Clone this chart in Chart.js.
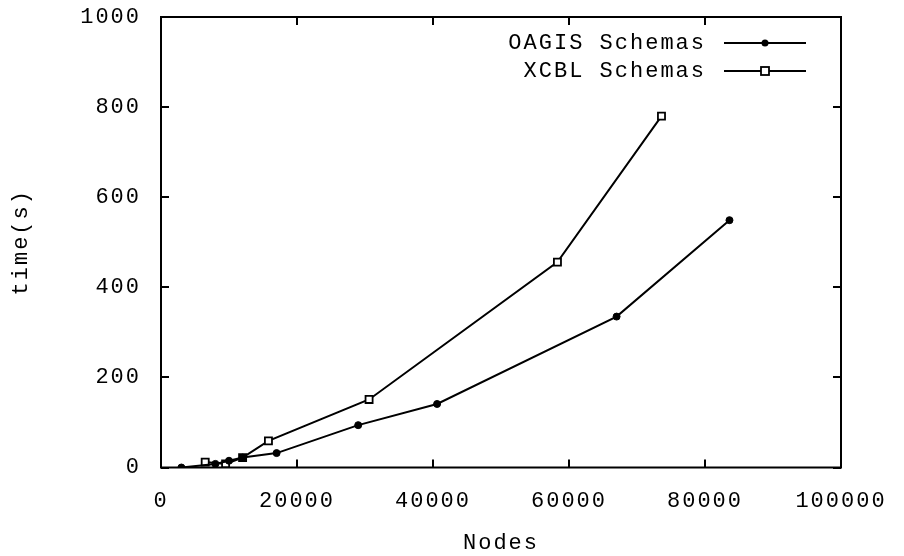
<!DOCTYPE html>
<html>
<head>
<meta charset="utf-8">
<script src="https://cdn.jsdelivr.net/npm/chart.js@4.4.0/dist/chart.umd.min.js"></script>
<style>
html,body{margin:0;padding:0;background:#fff;}
#wrap{width:904px;height:556px;position:relative;}
</style>
</head>
<body>
<div id="wrap"><canvas id="c" width="904" height="556"></canvas></div>
<script>
const oagisNodes = [3000, 8000, 10000, 12000, 17000, 29000, 40600, 67000, 83600];
const oagisTime  = [0, 8, 15, 22, 32, 94, 141, 335, 549];
const xcblNodes  = [6500, 9500, 12000, 15800, 30600, 58300, 73600];
const xcblTime   = [12, 8, 22, 59, 151, 456, 780];
const xTicks = [0, 20000, 40000, 60000, 80000, 100000];
const yTicks = [0, 200, 400, 600, 800, 1000];
const seriesNames = ['OAGIS Schemas', 'XCBL Schemas'];

const FONT = '"Liberation Mono", "DejaVu Sans Mono", monospace';
const FS = 22;

const toPts = (xs, ys) => xs.map((x, i) => ({x: x, y: ys[i]}));

const framePlugin = {
  id: 'frame',
  beforeDraw(chart) {
    chart.ctx.letterSpacing = '2px';
  },
  afterDatasetsDraw(chart) {
    const {ctx, chartArea: a, scales} = chart;
    ctx.save();
    ctx.strokeStyle = '#000';
    ctx.lineWidth = 2;
    ctx.strokeRect(a.left, a.top, a.right - a.left, a.bottom - a.top);
    const L = 8;
    ctx.beginPath();
    xTicks.forEach(v => {
      const px = Math.round(scales.x.getPixelForValue(v));
      ctx.moveTo(px, a.bottom); ctx.lineTo(px, a.bottom - L);
      ctx.moveTo(px, a.top); ctx.lineTo(px, a.top + L);
    });
    yTicks.forEach(v => {
      const py = Math.round(scales.y.getPixelForValue(v));
      ctx.moveTo(a.left, py); ctx.lineTo(a.left + L, py);
      ctx.moveTo(a.right, py); ctx.lineTo(a.right - L, py);
    });
    ctx.stroke();
    // legend
    ctx.font = FS + 'px ' + FONT;
    ctx.fillStyle = '#000';
    ctx.textAlign = 'right';
    ctx.textBaseline = 'middle';
    const rows = [43, 71];
    seriesNames.forEach((n, i) => {
      const y = rows[i];
      ctx.fillText(n, 706, y);
      ctx.beginPath();
      ctx.lineWidth = 2;
      ctx.moveTo(724, y); ctx.lineTo(806, y);
      ctx.stroke();
      if (i === 0) {
        ctx.beginPath();
        ctx.arc(765, y, 3.5, 0, Math.PI * 2);
        ctx.fill();
      } else {
        ctx.fillStyle = '#fff';
        ctx.fillRect(761, y - 4, 8, 8);
        ctx.lineWidth = 1.8;
        ctx.strokeRect(761, y - 4, 8, 8);
        ctx.fillStyle = '#000';
      }
    });
    ctx.restore();
  }
};

new Chart(document.getElementById('c'), {
  type: 'scatter',
  data: {
    datasets: [
      {
        label: seriesNames[0],
        data: toPts(oagisNodes, oagisTime),
        showLine: true,
        borderColor: '#000',
        backgroundColor: '#000',
        borderWidth: 2,
        pointStyle: 'circle',
        pointRadius: 3.5,
        pointBorderWidth: 1,
        tension: 0
      },
      {
        label: seriesNames[1],
        data: toPts(xcblNodes, xcblTime),
        showLine: true,
        borderColor: '#000',
        backgroundColor: '#fff',
        borderWidth: 2,
        pointStyle: 'rect',
        pointRadius: 5,
        pointBorderWidth: 1.8,
        tension: 0
      }
    ]
  },
  options: {
    responsive: false,
    animation: false,
    layout: {padding: {left: 0, right: 63, top: 17, bottom: 0}},
    plugins: {legend: {display: false}, tooltip: {enabled: false}},
    scales: {
      x: {
        type: 'linear', min: 0, max: 100000,
        afterBuildTicks: s => { s.ticks = xTicks.map(v => ({value: v})); },
        afterFit: s => { s.height = 88.5; s.paddingLeft = 0; s.paddingRight = 0; },
        grid: {display: false, drawTicks: false},
        border: {display: false},
        ticks: {color: '#000', padding: 20, maxRotation: 0, font: {family: FONT, size: FS}, callback: v => String(v)},
        title: {display: true, text: 'Nodes', color: '#000', font: {family: FONT, size: FS}, padding: {top: 6, bottom: 0}}
      },
      y: {
        type: 'linear', min: 0, max: 1000,
        afterBuildTicks: s => { s.ticks = yTicks.map(v => ({value: v})); },
        afterFit: s => { s.width = 161; s.paddingTop = 0; s.paddingBottom = 0; },
        grid: {display: false, drawTicks: false},
        border: {display: false},
        ticks: {color: '#000', padding: 20, font: {family: FONT, size: FS}, callback: v => String(v)},
        title: {display: true, text: 'time(s)', color: '#000', font: {family: FONT, size: FS}, padding: {top: 8, bottom: 0}}
      }
    }
  },
  plugins: [framePlugin]
});
</script>
</body>
</html>
